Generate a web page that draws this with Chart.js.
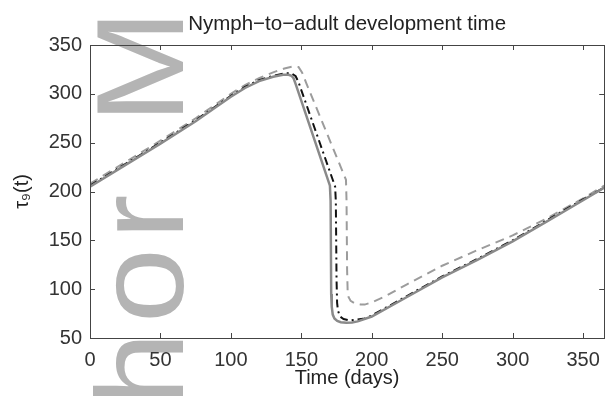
<!DOCTYPE html>
<html>
<head>
<meta charset="utf-8">
<script src="https://cdn.jsdelivr.net/npm/chart.js@4/dist/chart.umd.min.js"></script>
<style>
  html, body { margin: 0; padding: 0; background: #fff; }
</style>
</head>
<body>
<canvas id="c" width="610" height="396"></canvas>
<script>
// x positions (days) and values for each curve
const solidDays = [0, 25, 50, 75, 90, 100, 110, 120, 130, 137, 141, 143, 144.5, 146, 170.3, 170.8, 171.2, 171.6, 172.3, 173.5, 175.5, 178, 182, 186, 190, 200, 225, 250, 275, 300, 325, 350, 365];
const solidVals = [205, 227, 249, 272, 287, 297, 306, 313, 317.5, 319.5, 319.5, 318.5, 316, 310, 206, 190, 95, 82, 74, 70, 67.5, 66.2, 65.5, 65.8, 67, 72, 92, 112, 130, 149, 170, 191, 204];

const dashDotDays = [0, 25, 50, 75, 90, 100, 110, 120, 130, 138, 143, 146, 148, 174, 174.5, 175, 175.4, 176, 177.5, 180, 184, 188, 195, 200, 225, 250, 275, 300, 325, 350, 365];
const dashDotVals = [206, 228, 250, 273, 288, 298, 307, 314, 318.5, 321, 321, 318, 312, 205, 190, 110, 86, 78, 72, 69.5, 68, 68.5, 70, 73, 93, 113, 131, 150, 171, 192, 204];

const dashDays = [0, 25, 50, 75, 90, 100, 110, 120, 130, 138, 144, 148, 150.5, 153.5, 181.7, 182.1, 182.5, 182.9, 183.5, 185, 188, 192, 195, 200, 210, 225, 250, 275, 300, 325, 350, 365];
const dashVals = [208, 230, 252, 275, 290, 300, 309, 316, 322, 326, 328, 327.5, 322, 311, 212, 190, 120, 97, 92, 88, 85.5, 84.3, 84.2, 86.5, 93, 105, 124, 140, 155, 173, 193, 206];

const xTicks = [0, 50, 100, 150, 200, 250, 300, 350];
const yTicks = [50, 100, 150, 200, 250, 300, 350];

const toPoints = (xs, ys) => xs.map((x, i) => ({ x: x, y: ys[i] }));

const FONT = "'Liberation Sans', Arial, Helvetica, sans-serif";

// faint "Author Manuscript" stamp running up the left side
const watermark = {
  id: 'watermark',
  beforeDraw(chart) {
    const ctx = chart.ctx;
    ctx.save();
    ctx.fillStyle = '#b4b4b4';
    ctx.font = '125px ' + FONT;
    ctx.textBaseline = 'alphabetic';
    ctx.translate(183, 0);
    ctx.rotate(-Math.PI / 2);
    ctx.save();
    ctx.translate(-186, 0);
    ctx.scale(1.08, 1);
    ctx.letterSpacing = '8px';
    ctx.textAlign = 'right';
    ctx.fillText('Author', 0, 0);
    ctx.restore();
    ctx.translate(-124, 0);
    ctx.scale(1.1, 1);
    ctx.letterSpacing = '20px';
    ctx.textAlign = 'left';
    ctx.fillText('Manuscript', 0, 0);
    ctx.restore();
  }
};

// matlab style ticks pointing into the box on all four sides
const innerTicks = {
  id: 'innerTicks',
  afterDraw(chart) {
    const { ctx, chartArea: a, scales } = chart;
    const len = 5;
    ctx.save();
    ctx.strokeStyle = '#444';
    ctx.lineWidth = 1;
    ctx.beginPath();
    xTicks.forEach(v => {
      const px = Math.round(scales.x.getPixelForValue(v)) + 0.5;
      ctx.moveTo(px, a.bottom); ctx.lineTo(px, a.bottom - len);
      ctx.moveTo(px, a.top); ctx.lineTo(px, a.top + len);
    });
    yTicks.forEach(v => {
      const py = Math.round(scales.y.getPixelForValue(v)) + 0.5;
      ctx.moveTo(a.left, py); ctx.lineTo(a.left + len, py);
      ctx.moveTo(a.right, py); ctx.lineTo(a.right - len, py);
    });
    ctx.stroke();
    ctx.strokeRect(Math.round(a.left) + 0.5, Math.round(a.top) + 0.5, Math.round(a.right - a.left), Math.round(a.bottom - a.top));
    ctx.restore();
  }
};

new Chart(document.getElementById('c'), {
  type: 'line',
  data: {
    datasets: [
      {
        label: 'solid',
        data: toPoints(solidDays, solidVals),
        borderColor: '#8a8a8a',
        borderWidth: 2.5,
        pointRadius: 0,
        tension: 0,
        fill: false
      },
      {
        label: 'dash-dot',
        data: toPoints(dashDotDays, dashDotVals),
        borderColor: '#111',
        borderWidth: 2,
        borderDash: [8, 4, 2, 4],
        pointRadius: 0,
        tension: 0,
        fill: false
      },
      {
        label: 'dashed',
        data: toPoints(dashDays, dashVals),
        borderColor: '#9c9c9c',
        borderWidth: 2,
        borderDash: [9, 6],
        pointRadius: 0,
        tension: 0,
        fill: false
      }
    ]
  },
  options: {
    responsive: false,
    animation: false,
    layout: { padding: { left: 0, right: 2, top: 0, bottom: 0 } },
    plugins: {
      legend: { display: false },
      tooltip: { enabled: false },
      title: {
        display: true,
        fullSize: false,
        text: 'Nymph\u2212to\u2212adult development time',
        color: '#222',
        font: { family: FONT, size: 20.5, weight: 'normal' },
        padding: { top: 12, bottom: 8.4 }
      }
    },
    scales: {
      x: {
        type: 'linear',
        min: 0,
        max: 365,
        afterFit: s => { s.height = 58; },
        afterBuildTicks: s => { s.ticks = xTicks.map(v => ({ value: v })); },
        grid: { display: false, drawTicks: false },
        border: { display: false },
        ticks: { color: '#333', padding: 10, maxRotation: 0, font: { family: FONT, size: 20 } },
        title: {
          display: true,
          text: 'Time (days)',
          color: '#222',
          font: { family: FONT, size: 20 },
          padding: { top: 0, bottom: 6 }
        }
      },
      y: {
        type: 'linear',
        min: 50,
        max: 350,
        afterFit: s => { s.width = 90; },
        afterBuildTicks: s => { s.ticks = yTicks.map(v => ({ value: v })); },
        grid: { display: false, drawTicks: false },
        border: { display: false },
        ticks: { color: '#333', padding: 8, font: { family: FONT, size: 20 } },
        title: {
          display: true,
          text: '\u03c4\u2089(t)',
          color: '#222',
          font: { family: FONT, size: 20 },
          padding: { top: 10, bottom: 0 }
        }
      }
    }
  },
  plugins: [watermark, innerTicks]
});
</script>
</body>
</html>
